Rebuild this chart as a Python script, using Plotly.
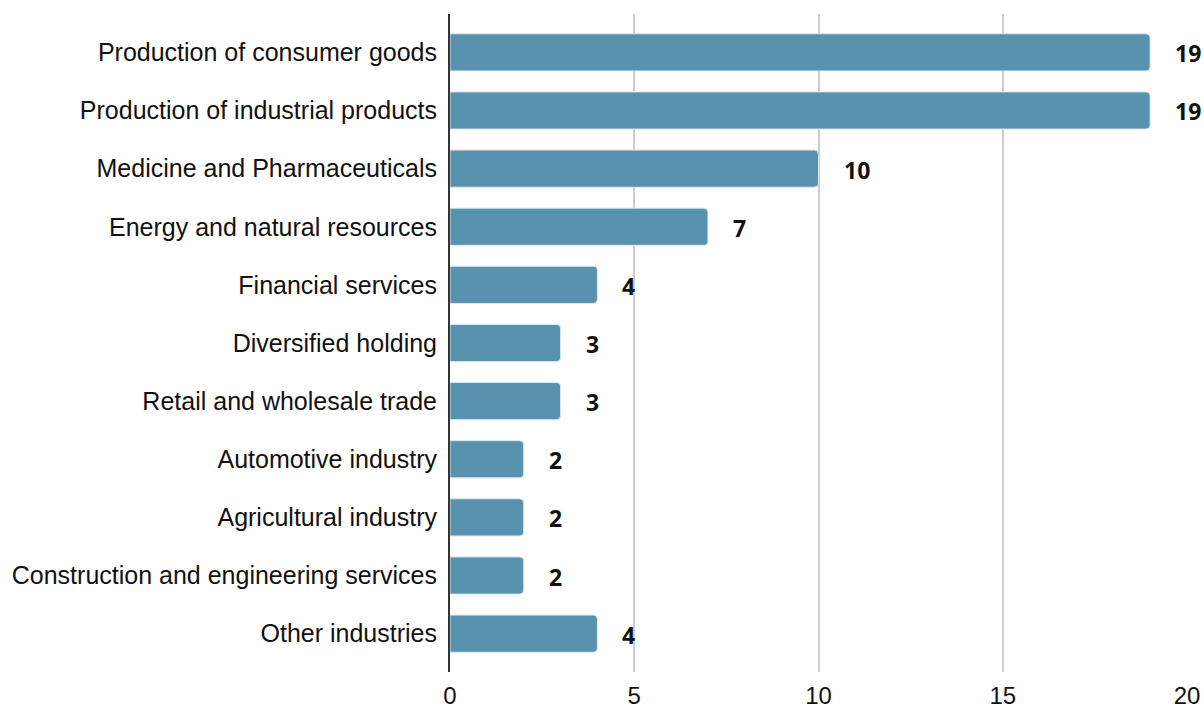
import plotly.graph_objects as go

categories = [
    "Production of consumer goods",
    "Production of industrial products",
    "Medicine and Pharmaceuticals",
    "Energy and natural resources",
    "Financial services",
    "Diversified holding",
    "Retail and wholesale trade",
    "Automotive industry",
    "Agricultural industry",
    "Construction and engineering services",
    "Other industries",
]
values = [19, 19, 10, 7, 4, 3, 3, 2, 2, 2, 4]
x_ticks = [0, 5, 10, 15, 20]

BAR_COLOR = "#5892af"

fig = go.Figure()
fig.add_trace(go.Bar(
    x=values,
    y=categories,
    orientation="h",
    marker=dict(color=BAR_COLOR, line=dict(color="#dfe9ef", width=1), cornerradius=4),
    hoverinfo="x+y",
))

for c, v in zip(categories, values):
    fig.add_annotation(
        x=v, y=c, text=f"<b>{v}</b>", showarrow=False,
        xanchor="left", yanchor="middle", xshift=23, yshift=-1,
        font=dict(family="Open Sans", size=23, color="#111111"),
    )

fig.update_layout(
    width=1204, height=709,
    margin=dict(l=450, r=17, t=14, b=37, autoexpand=False),
    plot_bgcolor="white", paper_bgcolor="white",
    showlegend=False,
    bargap=0.36,
    font=dict(family="Liberation Sans", size=24, color="#111111"),
)
fig.update_xaxes(
    range=[0, 20], tickvals=x_ticks, ticktext=[str(t) for t in x_ticks],
    showgrid=True, gridcolor="#cccccc", gridwidth=2,
    zeroline=False, showline=False, ticks="", ticklabelstandoff=7,
    automargin=False,
    tickfont=dict(family="Liberation Sans", size=24, color="#111111"),
)
fig.update_yaxes(
    categoryorder="array", categoryarray=categories,
    range=[10.66, -0.66],
    showline=True, linecolor="#333333", linewidth=2,
    showgrid=False, ticks="", ticklabelstandoff=6,
    automargin=False,
    tickfont=dict(family="Liberation Sans", size=25, color="#111111"),
)

fig.write_html(
    "out.html",
    config={"displayModeBar": False},
    post_script="document.body.style.margin='0';document.body.style.overflow='hidden';",
)
